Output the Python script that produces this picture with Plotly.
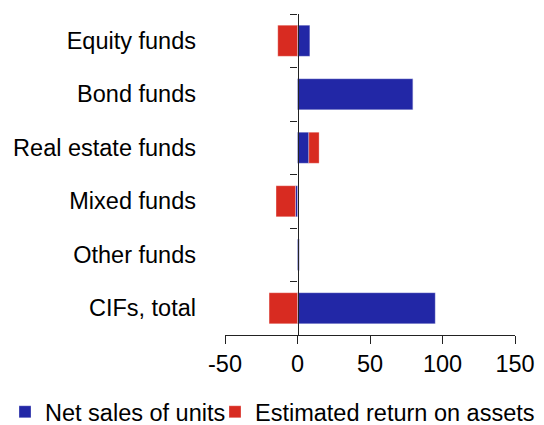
import plotly.graph_objects as go

categories = ["Equity funds", "Bond funds", "Real estate funds", "Mixed funds", "Other funds", "CIFs, total"]
net_sales = [8.5, 79.7, 7.8, -1.4, 1.4, 95.0]
est_return = [-13.6, 0.0, 7.1, -13.4, 0.0, -19.6]
x_ticks = [-50, 0, 50, 100, 150]
x_tick_labels = ["-50", "0", "50", "100", "150"]

BLUE = "#2227A6"
RED = "#D82B21"
FONT = "Liberation Sans, Arial, sans-serif"
FS = 23.5

ML, MR, MT, MB = 225, 29, 14, 90
W, H = 544, 425
plot_w = W - ML - MR
plot_h = H - MT - MB
legend_y = -(412 - (MT + plot_h)) / plot_h

fig = go.Figure()
fig.add_trace(go.Bar(
    y=categories, x=net_sales, orientation="h", name="Net sales of units",
    marker=dict(color=BLUE, line=dict(color="rgba(255,255,255,0.5)", width=0.6)),
    legend="legend",
))
fig.add_trace(go.Bar(
    y=categories, x=est_return, orientation="h", name="Estimated return on assets",
    marker=dict(color=RED, line=dict(color="rgba(255,255,255,0.5)", width=0.6)),
    legend="legend2",
))
# helper trace so the zero-line axis (with boundary ticks) is drawn
fig.add_trace(go.Scatter(
    y=categories, x=[0] * len(categories), yaxis="y2", mode="markers",
    marker=dict(opacity=0), showlegend=False, hoverinfo="skip",
))

n = len(categories)
xmin, xmax = x_ticks[0], x_ticks[-1]
legend_common = dict(
    orientation="h", xref="paper", yref="paper", xanchor="left",
    y=legend_y, yanchor="middle", font=dict(size=FS), itemwidth=30,
    bgcolor="rgba(0,0,0,0)",
)
fig.update_layout(
    width=W, height=H,
    margin=dict(l=ML, r=MR, t=MT, b=MB, autoexpand=False),
    barmode="relative", bargap=0.42,
    plot_bgcolor="white", paper_bgcolor="white",
    font=dict(family=FONT, size=FS, color="black"),
    xaxis=dict(
        range=[xmin, xmax], tickvals=x_ticks, ticktext=x_tick_labels,
        ticks="outside", ticklen=8,
        tickwidth=1, tickcolor="#222", showline=True, linecolor="#222", linewidth=1,
        showgrid=False, zeroline=False, tickfont=dict(size=FS),
        domain=[0, 1],
    ),
    yaxis=dict(
        type="category", categoryarray=categories, range=[n - 0.5, -0.5],
        showline=False, ticks="", showgrid=False, zeroline=False,
        ticklabelstandoff=28, tickfont=dict(size=FS),
    ),
    yaxis2=dict(
        type="category", categoryarray=categories, range=[n - 0.5, -0.5],
        overlaying="y", anchor="free", position=(0 - xmin) / (xmax - xmin),
        side="left", showline=True, linecolor="#222", linewidth=1.3,
        ticks="outside", tickson="boundaries", ticklen=7, tickcolor="#222",
        showticklabels=False, showgrid=False, zeroline=False,
    ),
    legend=dict(legend_common, x=(5 - ML) / plot_w),
    legend2=dict(legend_common, x=(215 - ML) / plot_w),
    showlegend=True,
)

fig.write_html("out.html", post_script="document.body.style.margin='0';",
               config={"displayModeBar": False})
